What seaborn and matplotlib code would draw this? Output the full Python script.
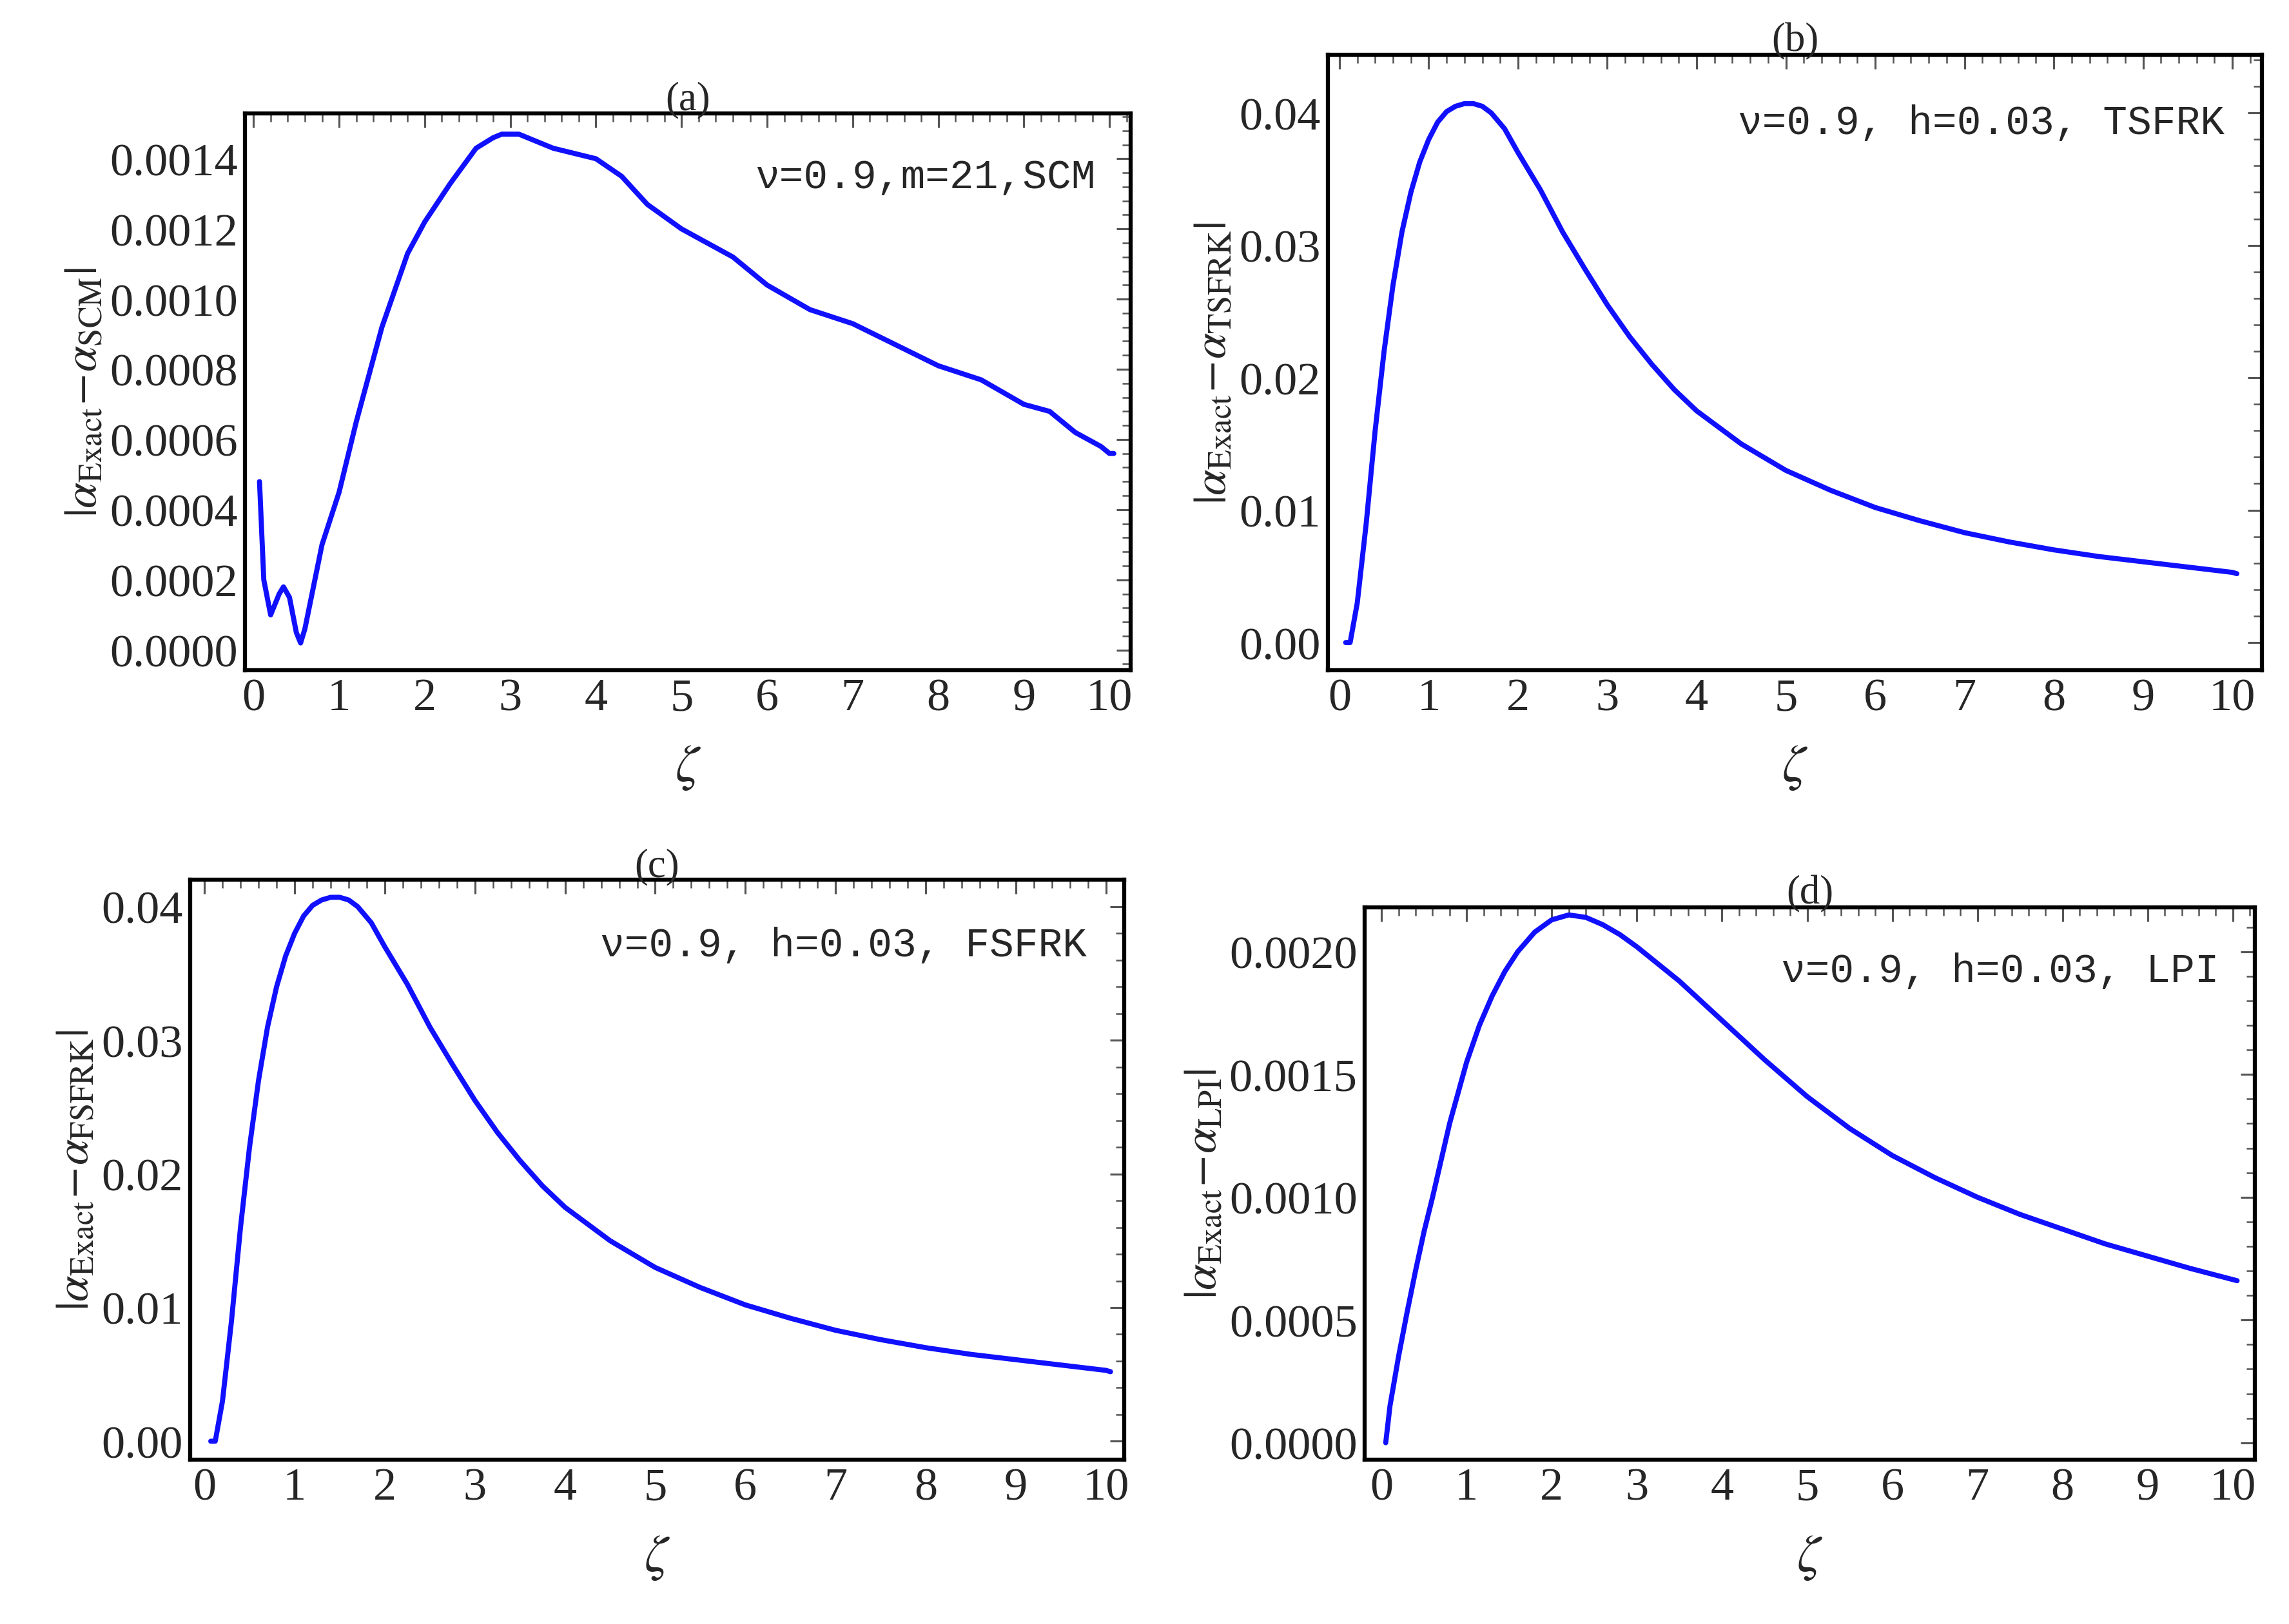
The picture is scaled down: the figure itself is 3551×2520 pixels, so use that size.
import numpy as np
import matplotlib
matplotlib.use("Agg")
import matplotlib.pyplot as plt
import seaborn as sns
from matplotlib.ticker import AutoMinorLocator

sns.set_theme(style="white")
plt.rcParams.update({"font.family": "Liberation Serif", "mathtext.fontset": "stix"})

x_a = [0.07,0.12,0.2,0.3,0.35,0.42,0.5,0.55,0.6,0.7,0.8,1.0,1.2,1.5,1.8,2.0,2.3,2.6,2.8,2.9,3.0,3.1,3.2,3.5,4.0,4.3,4.6,5.0,5.3,5.6,6.0,6.5,7.0,7.5,8.0,8.5,9.0,9.3,9.6,9.9,10.0,10.05]
y_a = [0.00048,0.0002,0.0001,0.00016,0.00018,0.00015,0.00005,0.00002,0.00006,0.00018,0.0003,0.00045,0.00065,0.00092,0.00113,0.00122,0.00133,0.00143,0.00146,0.00147,0.00147,0.00147,0.00146,0.00143,0.0014,0.00135,0.00127,0.0012,0.00116,0.00112,0.00104,0.00097,0.00093,0.00087,0.00081,0.00077,0.0007,0.00068,0.00062,0.00058,0.00056,0.00056]
x_b = [0.07,0.12,0.2,0.3,0.4,0.5,0.6,0.7,0.8,0.9,1.0,1.1,1.2,1.3,1.4,1.5,1.6,1.7,1.85,2.0,2.25,2.5,2.75,3.0,3.25,3.5,3.75,4.0,4.5,5.0,5.5,6.0,6.5,7.0,7.5,8.0,8.5,9.0,9.5,10.0,10.05]
y_b = [0,0.0,0.003,0.009,0.016,0.022,0.027,0.031,0.034,0.0363,0.038,0.0393,0.0401,0.0405,0.0407,0.0407,0.0405,0.0400,0.0388,0.037,0.0342,0.031,0.0282,0.0255,0.0231,0.0210,0.0191,0.0175,0.0150,0.0130,0.0115,0.0102,0.0092,0.0083,0.0076,0.0070,0.0065,0.0061,0.0057,0.0053,0.0052]
x_d = [0.05,0.1,0.2,0.3,0.4,0.5,0.6,0.8,1.0,1.15,1.3,1.45,1.6,1.8,2.0,2.2,2.4,2.6,2.8,3.0,3.25,3.5,4.0,4.5,5.0,5.5,6.0,6.5,7.0,7.5,8.0,8.5,9.0,9.5,10.05]
y_d = [0,0.00015,0.00035,0.00053,0.0007,0.00086,0.001,0.0013,0.00155,0.0017,0.00182,0.00192,0.002,0.00208,0.00213,0.00215,0.00214,0.00211,0.00207,0.00202,0.00195,0.00188,0.00172,0.00156,0.00141,0.00128,0.00117,0.00108,0.001,0.00093,0.00087,0.00081,0.00076,0.00071,0.00066]

panels = [
    ("(a)", x_a, y_a, [0.107,0.587,0.387,0.343], (-0.1,10.25), (-0.000058,0.00153), np.arange(0,0.00141,0.0002), "%.4f", r"$|\alpha_{\rm Exact}\!-\!\alpha_{\rm SCM}|$", "ν=0.9,m=21,SCM"),
    ("(b)", x_b, y_b, [0.580,0.587,0.408,0.379], (-0.13,10.33), (-0.0021,0.0444), np.arange(0,0.041,0.01), "%.2f", r"$|\alpha_{\rm Exact}\!-\!\alpha_{\rm TSFRK}|$", "ν=0.9, h=0.03, TSFRK"),
    ("(c)", x_b, y_b, [0.083,0.101,0.408,0.357], (-0.16,10.2), (-0.0014,0.042), np.arange(0,0.041,0.01), "%.2f", r"$|\alpha_{\rm Exact}\!-\!\alpha_{\rm FSFRK}|$", "ν=0.9, h=0.03, FSFRK"),
    ("(d)", x_d, y_d, [0.596,0.101,0.389,0.340], (-0.2,10.26), (-0.00007,0.00218), np.arange(0,0.00201,0.0005), "%.4f", r"$|\alpha_{\rm Exact}\!-\!\alpha_{\rm LPI}|$", "ν=0.9, h=0.03, LPI"),
]

fig = plt.figure(figsize=(15.68, 11.13))
for title, xs, ys, rect, xl, yl, yt, fmt, ylab, note in panels:
    ax = fig.add_axes(rect)
    sns.lineplot(x=xs, y=ys, ax=ax, color="#1010ff", lw=2.5, sort=False)
    ax.set_xlim(*xl); ax.set_ylim(*yl)
    ax.set_xticks(range(0, 11))
    ax.set_yticks(yt)
    ax.set_yticklabels([fmt % v for v in yt])
    ax.xaxis.set_minor_locator(AutoMinorLocator(5))
    ax.yaxis.set_minor_locator(AutoMinorLocator(5))
    ax.tick_params(which="both", direction="in", top=True, right=True, labelsize=23, color="#555555")
    ax.tick_params(which="major", length=7, width=1)
    ax.tick_params(which="minor", length=4, width=0.8)
    for s in ax.spines.values():
        s.set_linewidth(2); s.set_color("black")
    ax.set_xlabel(r"$\zeta$", fontsize=26, labelpad=12)
    ax.set_ylabel(ylab, fontsize=23, labelpad=2)
    ax.set_title(title, fontsize=20, pad=2)
    ax.text(0.96, 0.92, note, transform=ax.transAxes, ha="right", va="top",
            fontsize=20, family="Liberation Mono")
fig.savefig("out.png", dpi=226.5)
